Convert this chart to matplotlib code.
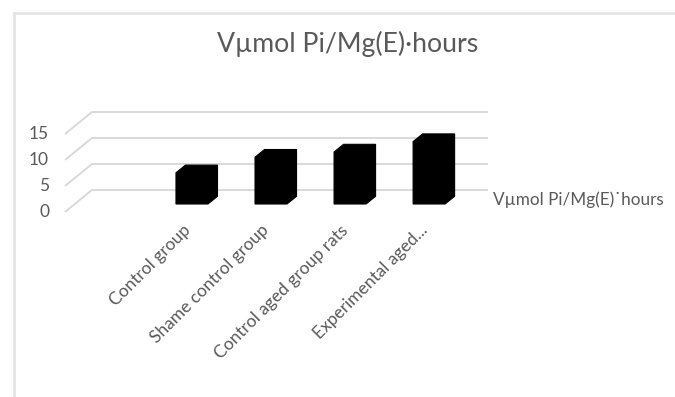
import numpy as np
import matplotlib
matplotlib.use("Agg")
import matplotlib.pyplot as plt
from matplotlib.patches import Polygon
from matplotlib.lines import Line2D

plt.rcParams['font.family'] = ['Lato', 'DejaVu Sans']

# ---- data -------------------------------------------------------------
categories = ["Control group", "Shame control group",
              "Control aged group rats", "Experimental aged..."]
values = [6, 9, 10, 12]
y_ticks = [0, 5, 10, 15]
series_name = "V\u00b5mol Pi/Mg(E)\u02d9hours"
title = "V\u00b5mol Pi/Mg(E)\u00b7hours"

# ---- style ------------------------------------------------------------
TEXT = "#595959"
GRID = "#d9d9d9"
BORDER = "#e3e3e3"
DPI = 100
W, H = 675, 397

fig = plt.figure(figsize=(W / DPI, H / DPI), dpi=DPI)
fig.patch.set_facecolor("white")

# axes holding the plane of the bar fronts (pixel box of that plane)
left_px, right_px, base_px, top_px = 75, 471, 204, 126
ax = fig.add_axes([left_px / W, (H - base_px) / H,
                   (right_px - left_px) / W, (base_px - top_px) / H])
ax.set_xlim(-1.48, 3.53)
ax.set_ylim(0, 15)
ax.axis("off")

# oblique depth offsets in pixels (right, up) relative to the bar-front plane
BACK = np.array([17.0, 14.0])     # back wall
FRONT = np.array([-10.0, -8.0])   # front edge of the floor
BAR_D = np.array([9.5, 7.7])      # depth of each column

inv = ax.transData.inverted()


def proj(x, v, off=(0.0, 0.0)):
    """data point on the bar-front plane shifted by a pixel offset -> data coords"""
    d = ax.transData.transform((x, v)) + np.asarray(off) * DPI / 100.0
    return inv.transform(d)


x0, x1 = ax.get_xlim()

# gridlines: diagonal on the floor side + horizontal on the back wall
for v in y_ticks:
    a = proj(x0, v, FRONT)
    b = proj(x0, v, BACK)
    c = proj(x1, v, BACK)
    ax.add_line(Line2D([a[0], b[0], c[0]], [a[1], b[1], c[1]],
                       color=GRID, lw=1.4, solid_capstyle="butt",
                       clip_on=False, zorder=1))
    # value label at the front end of the diagonal
    p = ax.transData.transform(a) + np.array([-16, 0])
    q = inv.transform(p)
    ax.text(q[0], q[1], str(v), ha="right", va="center",
            fontsize=12.5, color=TEXT, clip_on=False)

# columns: front face plus oblique top/side, all solid black
bar_w = 32 / 79.0
for i, v in enumerate(values):
    xa, xb = i - bar_w / 2, i + bar_w / 2
    pts = [proj(xa, 0), proj(xa, v), proj(xa, v, BAR_D), proj(xb, v, BAR_D),
           proj(xb, 0, BAR_D), proj(xb, 0)]
    ax.add_patch(Polygon(pts, closed=True, facecolor="black",
                         edgecolor="black", lw=0.8, zorder=3, clip_on=False))

# category labels, rotated 45 degrees
for i, name in enumerate(categories):
    p = ax.transData.transform((i, 0)) + np.array([-10, -18])
    q = inv.transform(p)
    ax.text(q[0], q[1], name, rotation=45, rotation_mode="anchor",
            ha="right", va="top", fontsize=12.5, color=TEXT, clip_on=False)

# title and series label
fig.text(348 / W, 1 - 44 / H, title, ha="center", va="center",
         fontsize=19.2, color=TEXT)
fig.text(493 / W, 1 - 200 / H, series_name, ha="left", va="center",
         fontsize=12.3, color=TEXT)

# chart-area border (left and top edges)
fig.add_artist(Line2D([14 / W, 14 / W], [0, 1 - 13 / H], color=BORDER,
                      lw=1.8, transform=fig.transFigure))
fig.add_artist(Line2D([14 / W, 1], [1 - 13 / H, 1 - 13 / H], color=BORDER,
                      lw=1.8, transform=fig.transFigure))

fig.savefig("out.png", dpi=DPI, facecolor="white")
